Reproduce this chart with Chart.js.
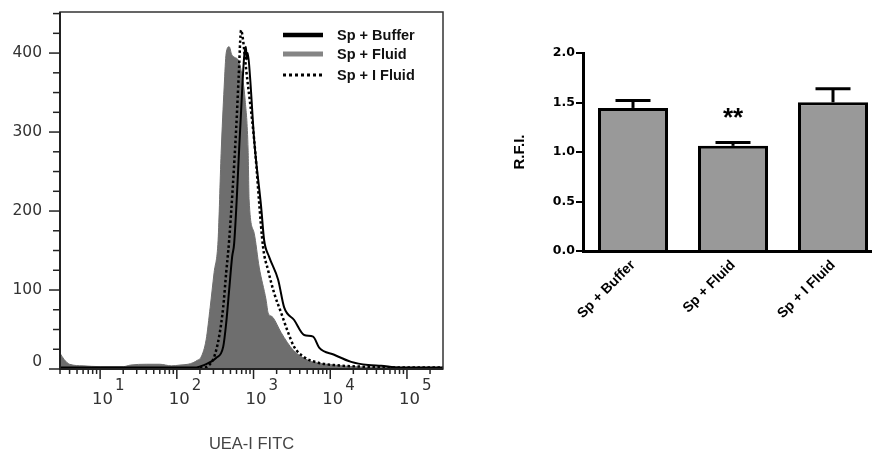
<!DOCTYPE html>
<html lang="en">
<head>
<meta charset="UTF-8" />
<title>UEA-I FITC</title>
<script src="https://cdn.jsdelivr.net/npm/chart.js@4.4.0/dist/chart.umd.min.js"></script>
<style>
  html, body { margin: 0; padding: 0; background: #fff; overflow: hidden; }
  body { width: 872px; height: 453px; position: relative; }
  #histWrap { position: absolute; left: 0; top: 0; width: 460px; height: 453px; }
  #barWrap { position: absolute; left: 460px; top: 0; width: 440px; height: 453px; }
</style>
</head>
<body>
<div id="histWrap"><canvas id="histChart"></canvas></div>
<div id="barWrap"><canvas id="barChart"></canvas></div>
<script>
  // ---------- histogram ----------
  const bufferX = [3, 10, 100, 180, 227, 325, 402, 440, 481, 526, 559, 669, 754, 795, 815, 840, 900, 1019, 1257, 1375, 1597, 2093, 2506, 3383, 4571, 5987, 7167, 11240, 18740, 31200, 46100, 80000, 295000];
  const bufferY = [2, 2, 2, 2, 5, 14, 28, 58, 100, 142, 159, 303, 395, 408, 392, 400, 370, 290, 205, 163, 142, 113, 78, 62, 43, 41, 27, 18, 9, 5, 4, 2, 2];

  const fluidX = [3, 3.4, 4, 6, 10, 20, 25, 40, 60, 85, 110, 140, 163, 185, 207, 241, 272, 306, 345, 378, 414, 440, 481, 520, 559, 640, 689, 778, 850, 876, 1019, 1184, 1460, 1549, 1700, 1800, 2293, 3284, 5150, 11200, 20000, 50000, 100000, 295000];
  const fluidY = [20, 12, 6, 4, 3, 3, 5, 6, 6, 4, 5, 6, 8, 11, 15, 37, 78, 122, 163, 273, 357, 400, 408, 398, 395, 390, 378, 340, 277, 214, 172, 129, 87, 71, 67, 65, 46, 24, 11, 5, 3, 2, 2, 2];

  const iFluidX = [3, 10, 100, 200, 264, 306, 356, 402, 440, 481, 593, 640, 689, 731, 800, 1019, 1334, 1549, 1857, 2293, 2828, 3383, 4571, 6950, 11240, 25300, 60000, 295000];
  const iFluidY = [1, 1, 1, 1, 5, 15, 41, 78, 122, 163, 303, 370, 429, 416, 380, 290, 154, 125, 96, 71, 46, 28, 15, 8, 5, 3, 2, 2];

  const countTicks = [0, 100, 200, 300, 400];
  const decades = [1, 2, 3, 4, 5];

  // ---------- bar chart ----------
  const groups = ["Sp + Buffer", "Sp + Fluid", "Sp + I Fluid"];
  const rfi = [1.445, 1.062, 1.502];
  const rfiErr = [0.075, 0.034, 0.138];
  const marks = ["", "**", ""];
  const rfiTicks = [0, 0.5, 1.0, 1.5, 2.0];

  const pts = (xs, ys) => xs.map((x, i) => ({ x: x, y: ys[i] }));

  function seg(ctx, x1, y1, x2, y2) {
    ctx.beginPath();
    ctx.moveTo(x1, y1);
    ctx.lineTo(x2, y2);
    ctx.stroke();
  }

  // frame, ticks, labels and legend of the histogram
  const histAxes = {
    id: "histAxes",
    afterDraw(chart) {
      const { ctx, chartArea: a, scales: { x, y } } = chart;
      ctx.save();

      ctx.strokeStyle = "#333";
      ctx.lineWidth = 1.5;
      ctx.strokeRect(a.left, a.top, a.right - a.left, a.bottom - a.top);
      ctx.strokeStyle = "#222";
      ctx.lineWidth = 2;
      ctx.beginPath();
      ctx.moveTo(a.left, a.top);
      ctx.lineTo(a.left, a.bottom);
      ctx.lineTo(a.right, a.bottom);
      ctx.stroke();

      // y ticks every 25
      ctx.lineWidth = 1.5;
      for (let v = 0; v <= y.max; v += 25) {
        const py = y.getPixelForValue(v);
        const len = v % 100 === 0 ? 11 : 7;
        seg(ctx, a.left - len, py, a.left, py);
      }
      // x log ticks
      for (let n = 0; n <= 5; n++) {
        for (let k = 1; k <= 9; k++) {
          const v = k * Math.pow(10, n);
          if (v < x.min || v > x.max) continue;
          const px = x.getPixelForValue(v);
          seg(ctx, px, a.bottom, px, a.bottom + (k === 1 ? 10 : 5));
        }
      }

      ctx.fillStyle = "#333";
      ctx.font = "15.5px 'DejaVu Sans'";
      ctx.textAlign = "right";
      ctx.textBaseline = "middle";
      countTicks.forEach(v => {
        const py = y.getPixelForValue(v) - (v === 0 ? 7 : 0);
        ctx.fillText(String(v), a.left - 18, py);
      });

      ctx.textAlign = "left";
      ctx.textBaseline = "alphabetic";
      decades.forEach(n => {
        const px = x.getPixelForValue(Math.pow(10, n));
        ctx.font = "16.5px 'DejaVu Sans'";
        ctx.fillText("10", px - 8, a.bottom + 35);
        const w = ctx.measureText("10").width;
        ctx.font = "15px 'DejaVu Sans'";
        ctx.fillText(String(n), px - 8 + w + 2, a.bottom + 21);
      });

      ctx.fillStyle = "#444";
      ctx.font = "16.5px 'Liberation Sans', Arial, sans-serif";
      ctx.textAlign = "center";
      ctx.fillText("UEA-I FITC", (a.left + a.right) / 2, a.bottom + 80);

      // legend
      const rows = [35, 54, 75];
      const lx = a.left + 223;
      const sample = [
        { color: "#000", width: 4.5, dash: [] },
        { color: "#858585", width: 5, dash: [] },
        { color: "#000", width: 3, dash: [3, 3] },
      ];
      chart.data.datasets.forEach((ds, i) => {
        const s = sample[i];
        ctx.strokeStyle = s.color;
        ctx.lineWidth = s.width;
        ctx.setLineDash(s.dash);
        seg(ctx, lx, rows[i], lx + 40, rows[i]);
        ctx.setLineDash([]);
        ctx.fillStyle = "#111";
        ctx.font = "bold 14.5px 'Liberation Sans', Arial, sans-serif";
        ctx.textAlign = "left";
        ctx.fillText(ds.label, lx + 54, rows[i] + 4.5);
      });
      ctx.restore();
    }
  };

  new Chart(document.getElementById("histChart"), {
    type: "line",
    data: {
      datasets: [
        { label: "Sp + Buffer", data: pts(bufferX, bufferY), borderColor: "#000", borderWidth: 2, fill: false, order: 1 },
        { label: "Sp + Fluid", data: pts(fluidX, fluidY), borderColor: "#6e6e6e", backgroundColor: "#6e6e6e", borderWidth: 1, fill: "origin", order: 3 },
        { label: "Sp + I Fluid", data: pts(iFluidX, iFluidY), borderColor: "#000", borderWidth: 2.5, borderDash: [2.5, 2.5], fill: false, order: 2 },
      ],
    },
    options: {
      responsive: true,
      maintainAspectRatio: false,
      animation: false,
      layout: { padding: { left: 60, top: 12, right: 17, bottom: 84 } },
      elements: { point: { radius: 0 }, line: { cubicInterpolationMode: "monotone" } },
      scales: {
        x: { type: "logarithmic", min: 3, max: 295000, display: false },
        y: { min: 0, max: 452, display: false },
      },
      plugins: { legend: { display: false }, tooltip: { enabled: false } },
    },
    plugins: [histAxes],
  });

  // error bars and significance mark
  const errorBars = {
    id: "errorBars",
    afterDatasetsDraw(chart) {
      const { ctx, scales: { y } } = chart;
      const meta = chart.getDatasetMeta(0);
      ctx.save();
      ctx.strokeStyle = "#000";
      ctx.lineWidth = 3;
      meta.data.forEach((bar, i) => {
        const top = y.getPixelForValue(rfi[i]);
        const hi = y.getPixelForValue(rfi[i] + rfiErr[i]);
        const half = bar.width / 4;
        seg(ctx, bar.x, top, bar.x, hi);
        seg(ctx, bar.x - half, hi, bar.x + half, hi);
        if (marks[i]) {
          ctx.fillStyle = "#000";
          ctx.font = "bold 26px 'Liberation Sans', Arial, sans-serif";
          ctx.textAlign = "center";
          ctx.fillText(marks[i], bar.x, hi - 16);
        }
      });
      ctx.restore();
    }
  };

  new Chart(document.getElementById("barChart"), {
    type: "bar",
    data: {
      labels: groups,
      datasets: [{
        data: rfi,
        backgroundColor: "#999999",
        borderColor: "#000",
        borderWidth: 3,
        borderSkipped: "start",
        barPercentage: 0.7,
        categoryPercentage: 1,
      }],
    },
    options: {
      responsive: true,
      maintainAspectRatio: false,
      animation: false,
      layout: { padding: { left: 50, top: 53, right: 17, bottom: 0 } },
      scales: {
        x: {
          grid: { display: false, drawTicks: false },
          border: { display: true, color: "#000", width: 3 },
          ticks: {
            color: "#000",
            font: { family: "'Liberation Sans', Arial, sans-serif", weight: "bold", size: 14 },
            minRotation: 45,
            maxRotation: 45,
            autoSkip: false,
            padding: 6,
          },
          afterFit: (s) => { s.height = 202; },
        },
        y: {
          min: 0,
          max: 2,
          afterBuildTicks: (s) => { s.ticks = rfiTicks.map(v => ({ value: v })); },
          ticks: {
            color: "#000",
            padding: 1,
            font: { family: "'DejaVu Sans'", weight: "bold", size: 12.5 },
            callback: (v) => Number(v).toFixed(1),
          },
          grid: { drawOnChartArea: false, color: "#000", lineWidth: 2, tickLength: 7 },
          border: { display: true, color: "#000", width: 3 },
          title: {
            display: true,
            text: "R.F.I.",
            color: "#000",
            font: { family: "'Liberation Sans', Arial, sans-serif", weight: "bold", size: 15 },
            padding: { top: 1, bottom: 0 },
          },
          afterFit: (s) => { s.width = 73; },
        },
      },
      plugins: { legend: { display: false }, tooltip: { enabled: false } },
    },
    plugins: [errorBars],
  });
</script>
</body>
</html>
